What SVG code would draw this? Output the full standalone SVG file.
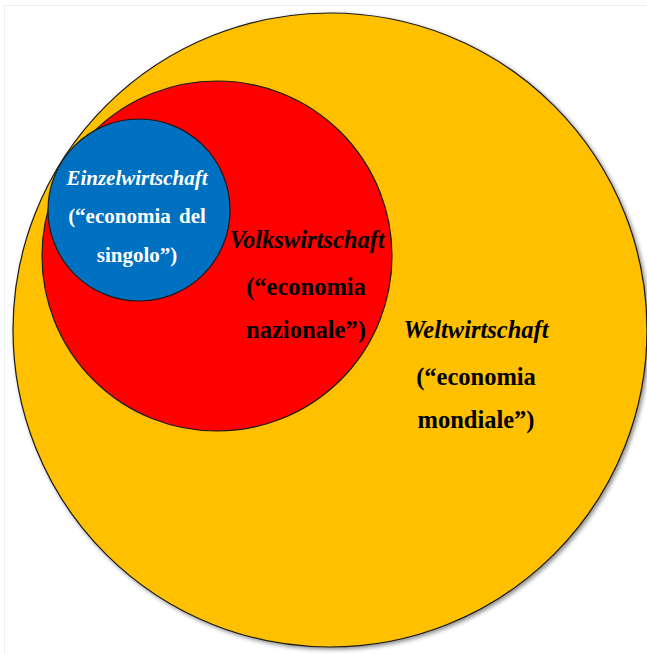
<svg xmlns="http://www.w3.org/2000/svg" width="647" height="654" viewBox="0 0 647 654">
  <defs>
    <filter id="shadow" x="-5%" y="-5%" width="112%" height="112%">
      <feDropShadow dx="2" dy="2" stdDeviation="2" flood-color="#000" flood-opacity="0.45"/>
    </filter>
  </defs>
  <style>
    .ring { stroke: #1a1a1a; stroke-width: 1.2; }
    .lbl { font-family: "Liberation Serif", "Times New Roman", serif; font-weight: bold; text-anchor: middle; }
    .title { font-style: italic; }
    .big { font-size: 24.5px; fill: #000; }
    .small { font-size: 21px; fill: #fff; }
  </style>

  <rect x="0" y="0" width="647" height="654" fill="#fff"/>
  <path d="M4.5 654 V5.5 H647" fill="none" stroke="#f0f0f0" stroke-width="1"/>

  <!-- world economy -->
  <g id="weltwirtschaft">
    <circle class="ring" cx="330" cy="330" r="317" fill="#FFC000" filter="url(#shadow)"/>
    <text class="lbl big title" x="476" y="338">Weltwirtschaft</text>
    <text class="lbl big" x="476" y="385">(“economia</text>
    <text class="lbl big" x="476" y="428">mondiale”)</text>
  </g>

  <!-- national economy -->
  <g id="volkswirtschaft">
    <circle class="ring" cx="217" cy="256" r="175" fill="#FF0000"/>
    <text class="lbl big title" x="307" y="248">Volkswirtschaft</text>
    <text class="lbl big" x="306" y="295">(“economia</text>
    <text class="lbl big" x="306" y="338">nazionale”)</text>
  </g>

  <!-- individual economy -->
  <g id="einzelwirtschaft">
    <circle class="ring" cx="139" cy="210" r="91" fill="#0070C0"/>
    <text class="lbl small title" x="137" y="185">Einzelwirtschaft</text>
    <text class="lbl small" x="137" y="223" word-spacing="3">(“economia del</text>
    <text class="lbl small" x="137" y="262">singolo”)</text>
  </g>
</svg>
